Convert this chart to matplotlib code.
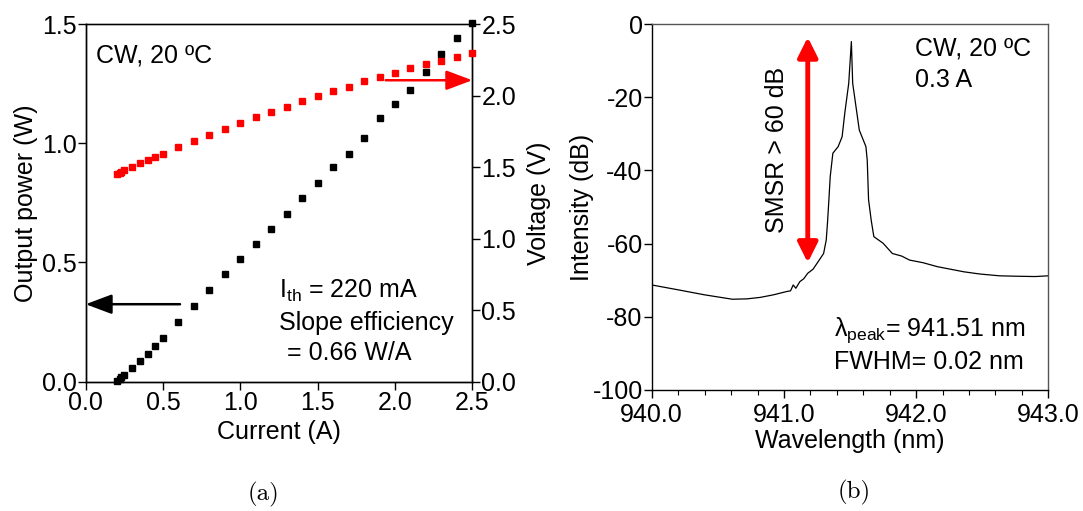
import numpy as np
import matplotlib.pyplot as plt
from matplotlib.ticker import MultipleLocator

plt.rcParams['font.family'] = ['Liberation Sans', 'DejaVu Sans']
plt.rcParams['mathtext.fontset'] = 'custom'
plt.rcParams['mathtext.rm'] = 'Liberation Sans'
plt.rcParams['mathtext.it'] = 'Liberation Sans:italic'
plt.rcParams['axes.unicode_minus'] = False

# (a) L-I-V data
current = [0.20, 0.22, 0.23, 0.25, 0.30, 0.35, 0.40, 0.45, 0.50, 0.60, 0.70, 0.80,
           0.90, 1.00, 1.10, 1.20, 1.30, 1.40, 1.50, 1.60, 1.70, 1.80, 1.90, 2.00,
           2.10, 2.20, 2.30, 2.40, 2.50]
power = [0.004, 0.010, 0.020, 0.030, 0.056, 0.087, 0.116, 0.151, 0.185, 0.249, 0.317, 0.386,
         0.452, 0.516, 0.577, 0.642, 0.703, 0.770, 0.832, 0.902, 0.955, 1.023, 1.104, 1.163,
         1.223, 1.300, 1.374, 1.442, 1.503]
voltage = [1.450, 1.458, 1.465, 1.479, 1.500, 1.530, 1.549, 1.572, 1.591, 1.638, 1.682, 1.722,
           1.764, 1.806, 1.848, 1.887, 1.922, 1.962, 1.994, 2.029, 2.062, 2.099, 2.129, 2.159,
           2.190, 2.218, 2.243, 2.267, 2.295]

# (b) spectrum
wavelength = [940.00, 940.21, 940.40, 940.61, 940.72, 940.82, 940.92, 941.02, 941.05, 941.07,
              941.09, 941.12, 941.15, 941.18, 941.22, 941.25, 941.30, 941.32, 941.33, 941.34,
              941.35, 941.37, 941.41, 941.44, 941.46, 941.49, 941.51, 941.52, 941.545, 941.57,
              941.60, 941.62, 941.63, 941.64, 941.66, 941.68, 941.75, 941.82, 941.89, 941.95,
              942.05, 942.16, 942.26, 942.36, 942.48, 942.63, 942.74, 942.90, 943.00]
intensity = [-71.3, -72.7, -74.0, -75.2, -75.1, -74.7, -74.0, -73.1, -72.9, -71.3,
             -72.2, -70.4, -69.6, -68.1, -67.0, -65.4, -62.7, -59.0, -54.0, -48.0,
             -41.7, -35.3, -33.5, -30.8, -24.4, -16.2, -4.8, -16.2, -22.6, -29.0,
             -31.7, -33.5, -37.2, -48.0, -53.6, -58.1, -59.9, -62.7, -63.4, -64.5,
             -65.2, -66.3, -67.0, -67.7, -68.3, -68.8, -68.9, -69.0, -68.8]

fs = 18
fig = plt.figure(figsize=(10.83, 5.11), dpi=100)

# ---- (a) ----
ax1 = fig.add_axes([0.0791, 0.253, 0.357, 0.700])
ax2 = ax1.twinx()
ax1.plot(current, power, 's', color='black', ms=4.6, clip_on=False, zorder=3)
ax2.plot(current, voltage, 's', color='red', ms=4.6, clip_on=False, zorder=4)
ax1.set_xlim(0, 2.5)
ax1.set_ylim(0, 1.5)
ax2.set_ylim(0, 2.5)
ax1.xaxis.set_major_locator(MultipleLocator(0.5))
ax1.yaxis.set_major_locator(MultipleLocator(0.5))
ax2.yaxis.set_major_locator(MultipleLocator(0.5))
ax1.xaxis.set_major_formatter('{x:.1f}')
ax1.yaxis.set_major_formatter('{x:.1f}')
ax2.yaxis.set_major_formatter('{x:.1f}')
for a in (ax1, ax2):
    a.tick_params(labelsize=fs, length=5.5, width=1, pad=1)
    for s in a.spines.values():
        s.set_linewidth(1)
ax1.spines['top'].set_color('#555555')
ax1.set_xlabel('Current (A)', fontsize=fs, labelpad=4)
ax1.set_ylabel('Output power (W)', fontsize=fs, labelpad=3)
ax2.set_ylabel('Voltage (V)', fontsize=fs, labelpad=8)

ax1.text(0.07, 1.37, 'CW, 20 ºC', fontsize=fs, va='center')
ax1.text(1.25, 0.38, r'I$_{\rm th}$ = 220 mA', fontsize=fs, va='center')
ax1.text(1.25, 0.245, 'Slope efficiency', fontsize=fs, va='center')
ax1.text(1.30, 0.12, '= 0.66 W/A', fontsize=fs, va='center')
ax1.annotate('', xy=(0.0, 0.325), xytext=(0.61, 0.325),
             arrowprops=dict(arrowstyle='-|>,head_length=0.8,head_width=0.3',
                             color='black', lw=1.8, mutation_scale=20, shrinkA=0, shrinkB=0))
ax2.annotate('', xy=(2.5, 2.107), xytext=(1.94, 2.107),
             arrowprops=dict(arrowstyle='-|>,head_length=0.8,head_width=0.3',
                             color='red', lw=1.8, mutation_scale=20, shrinkA=0, shrinkB=0),
             annotation_clip=False)
fig.text(0.243, 0.032, '(a)', fontsize=fs, family='cmr10', ha='center', va='center')

# ---- (b) ----
ax3 = fig.add_axes([0.6018, 0.2368, 0.3662, 0.7162])
ax3.plot(wavelength, intensity, color='black', lw=0.9)
ax3.set_xlim(940, 943)
ax3.set_ylim(-100, 0)
ax3.xaxis.set_major_locator(MultipleLocator(1.0))
ax3.xaxis.set_minor_locator(MultipleLocator(0.2))
ax3.yaxis.set_major_locator(MultipleLocator(20))
ax3.xaxis.set_major_formatter('{x:.1f}')
ax3.tick_params(labelsize=fs, length=5.5, width=1, pad=1)
ax3.tick_params(axis='x', pad=4)
ax3.tick_params(which='minor', length=3.5, width=0.8)
for s in ax3.spines.values():
    s.set_linewidth(1)
ax3.spines['top'].set_color('#555555')
ax3.spines['right'].set_color('#555555')
ax3.set_xlabel('Wavelength (nm)', fontsize=fs, labelpad=1)
ax3.set_ylabel('Intensity (dB)', fontsize=fs, labelpad=-1)

ax3.annotate('', xy=(941.18, -3.6), xytext=(941.18, -65.2),
             arrowprops=dict(arrowstyle='<|-|>,head_length=0.6,head_width=0.3',
                             color='red', lw=3.5, mutation_scale=20, shrinkA=0, shrinkB=0))
ax3.text(940.95, -34.5, 'SMSR > 60 dB', rotation=90, fontsize=fs, ha='center', va='center')
ax3.text(941.99, -6.6, 'CW, 20 ºC', fontsize=fs, va='center')
ax3.text(941.99, -15.3, '0.3 A', fontsize=fs, va='center')
ax3.text(941.38, -83.6, r'λ$_{\rm peak}$= 941.51 nm', fontsize=fs, va='center')
ax3.text(941.38, -92.3, 'FWHM= 0.02 nm', fontsize=fs, va='center')
fig.text(0.789, 0.037, '(b)', fontsize=fs, family='cmr10', ha='center', va='center')

fig.savefig('out.png', dpi=100)
